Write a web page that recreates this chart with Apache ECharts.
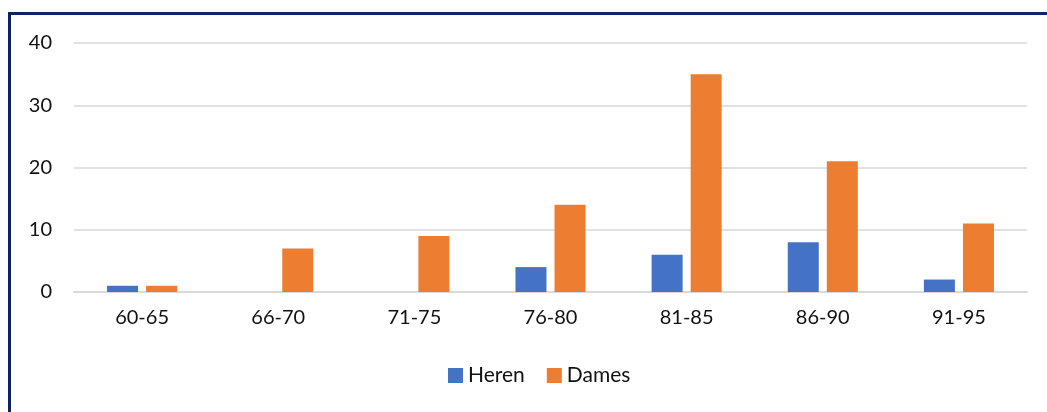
<!DOCTYPE html>
<html><head><meta charset="utf-8">
<script src="https://cdn.jsdelivr.net/npm/echarts@6/dist/echarts.min.js"></script>
<style>
html,body{margin:0;padding:0;background:#fff;}
#frame{position:absolute;left:8px;top:12px;width:1039px;height:400px;border-top:3px solid #0c2461;border-left:3px solid #0c2461;box-sizing:border-box;}
#chart{position:absolute;left:0;top:0;width:1047px;height:412px;}
</style></head>
<body>
<div id="frame"></div>
<div id="chart"></div>
<script>
const categories = ['60-65','66-70','71-75','76-80','81-85','86-90','91-95'];
const heren = [1,0,0,4,6,8,2];
const dames = [1,7,9,14,35,21,11];
const yTicks = [0,10,20,30,40];

const chart = echarts.init(document.getElementById('chart'));
const font = 'Lato, "Noto Sans", sans-serif';
chart.setOption({
  animation:false,
  textStyle:{fontFamily:font},
  grid:{left:74,right:20,top:43,bottom:120,containLabel:false},
  legend:{bottom:21,left:443,itemWidth:15,itemHeight:15,itemGap:22,icon:'rect',
    textStyle:{fontSize:21,color:'#111',fontFamily:font},
    data:['Heren','Dames']},
  xAxis:{type:'category',data:categories,
    axisLine:{lineStyle:{color:'#d9d9d9',width:2}},axisTick:{show:false},
    axisLabel:{fontSize:20,color:'#111',margin:16,fontFamily:font}},
  yAxis:{type:'value',min:yTicks[0],max:yTicks[yTicks.length-1],interval:10,
    axisLine:{show:false},axisTick:{show:false},
    axisLabel:{fontSize:20,color:'#111',margin:22,fontFamily:font},
    splitLine:{lineStyle:{color:'#d9d9d9',width:1.5}}},
  series:[
    {name:'Heren',type:'bar',data:heren,barWidth:31,barGap:'26%',barCategoryGap:'48%',
      itemStyle:{color:'#4472c4'}},
    {name:'Dames',type:'bar',data:dames,barWidth:31,barGap:'26%',barCategoryGap:'48%',
      itemStyle:{color:'#ed7d31'}}
  ]
});
</script>
</body></html>
